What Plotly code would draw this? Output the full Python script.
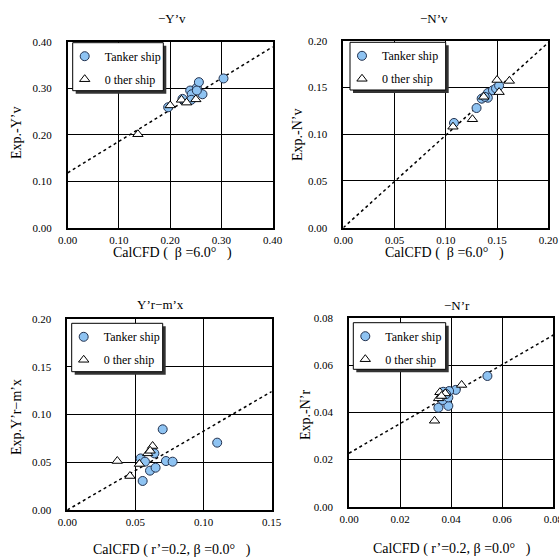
import plotly.graph_objects as go

# ---------------- data ----------------
# Panel 1: -Y'v
yv_tanker_x = [0.196, 0.224, 0.239, 0.242, 0.252, 0.256, 0.263, 0.252, 0.241, 0.304]
yv_tanker_y = [0.259, 0.277, 0.295, 0.287, 0.301, 0.313, 0.287, 0.295, 0.275, 0.321]
yv_other_x = [0.137, 0.200, 0.222, 0.232, 0.250]
yv_other_y = [0.201, 0.263, 0.275, 0.269, 0.276]
yv_fit_x = [0.0, 0.40]
yv_fit_y = [0.118, 0.389]

# Panel 2: -N'v
nv_tanker_x = [0.108, 0.130, 0.135, 0.141, 0.141, 0.146, 0.149, 0.152, 0.138]
nv_tanker_y = [0.112, 0.128, 0.138, 0.144, 0.139, 0.147, 0.149, 0.152, 0.140]
nv_other_x = [0.107, 0.126, 0.137, 0.150, 0.152, 0.162]
nv_other_y = [0.108, 0.116, 0.140, 0.158, 0.145, 0.157]
nv_fit_x = [0.0, 0.20]
nv_fit_y = [0.0, 0.198]

# Panel 3: Y'r-m'x
yr_tanker_x = [0.070, 0.110, 0.0538, 0.057, 0.0639, 0.0607, 0.0648, 0.0724, 0.0773, 0.0553]
yr_tanker_y = [0.0845, 0.0705, 0.054, 0.0506, 0.0593, 0.0412, 0.0443, 0.0513, 0.0506, 0.0304]
yr_other_x = [0.0367, 0.046, 0.0529, 0.059, 0.0626, 0.0608]
yr_other_y = [0.0513, 0.0356, 0.0482, 0.0593, 0.067, 0.062]
yr_fit_x = [0.0, 0.15]
yr_fit_y = [0.0, 0.124]

# Panel 4: -N'r
nr_tanker_x = [0.0542, 0.0418, 0.0392, 0.0369, 0.0350, 0.0389, 0.0367, 0.0389, 0.0380]
nr_tanker_y = [0.0555, 0.0496, 0.0491, 0.0488, 0.0420, 0.0428, 0.0453, 0.0464, 0.0478]
nr_other_x = [0.0335, 0.0356, 0.0377, 0.0441, 0.0351, 0.0362]
nr_other_y = [0.0365, 0.0486, 0.0481, 0.0517, 0.0460, 0.0470]
nr_fit_x = [0.0, 0.08]
nr_fit_y = [0.0227, 0.0729]

panel_titles = ["\u2212Y\u2019v", "\u2212N\u2019v", "Y\u2019r\u2212m\u2019x", "\u2212N\u2019r"]
y_titles = ["Exp.-Y\u2019v", "Exp.-N\u2019v", "Exp.Y\u2019r\u2212m\u2019x", "Exp.-N\u2019r"]
x_titles = ["CalCFD (  \u03b2 =6.0\u00b0   )", "CalCFD (  \u03b2 =6.0\u00b0   )",
            "CalCFD ( r\u2019=0.2, \u03b2 =0.0\u00b0   )", "CalCFD ( r\u2019=0.2, \u03b2 =0.0\u00b0   )"]
axis_max = [0.40, 0.20, (0.15, 0.20), 0.08]
axis_dtick = [0.10, 0.05, 0.05, 0.02]
series_names = ["Tanker ship", "0 ther ship"]

W, H = 559, 560
FONT = "Liberation Serif"

def px(x):
    return x / W

def py(y):
    return 1 - y / H

# panel plot-area boxes in pixels (left, right, top, bottom)
boxes = [(67.7, 272.7, 41.7, 227.7),
         (343.3, 548.3, 40.7, 227.7),
         (67.3, 271.7, 319.0, 510.0),
         (349.0, 553.3, 318.3, 506.7)]
legend_boxes = [(72.7, 163.3, 42.7, 90.7),
                (350.0, 445.7, 42.3, 90.0),
                (71.7, 162.7, 323.3, 371.7),
                (353.3, 445.7, 322.7, 369.3)]
title_pos = [(172, 18), (434, 18), (160, 304), (457, 305)]
xtitle_pos = [(172, 253), (444, 253), (172, 550), (452, 549)]
ytitle_pos = [(16, 133), (297, 135), (16, 417), (305, 415)]

data = [
    (yv_tanker_x, yv_tanker_y, yv_other_x, yv_other_y, yv_fit_x, yv_fit_y),
    (nv_tanker_x, nv_tanker_y, nv_other_x, nv_other_y, nv_fit_x, nv_fit_y),
    (yr_tanker_x, yr_tanker_y, yr_other_x, yr_other_y, yr_fit_x, yr_fit_y),
    (nr_tanker_x, nr_tanker_y, nr_other_x, nr_other_y, nr_fit_x, nr_fit_y),
]

fig = go.Figure()
layout = dict(width=W, height=H, margin=dict(l=0, r=0, t=0, b=0, pad=0),
              template="none",
              paper_bgcolor="white", plot_bgcolor="white",
              font=dict(family=FONT, color="black", size=11),
              showlegend=True, shapes=[], annotations=[])

for i, (tx, ty, ox, oy, fx, fy) in enumerate(data):
    n = "" if i == 0 else str(i + 1)
    xa, ya = "x" + n, "y" + n
    lg = "legend" + n
    fig.add_trace(go.Scatter(x=fx, y=fy, mode="lines", xaxis=xa, yaxis=ya,
                             line=dict(color="black", width=1.5, dash="dot"),
                             showlegend=False, hoverinfo="skip"))
    fig.add_trace(go.Scatter(x=tx, y=ty, mode="markers", xaxis=xa, yaxis=ya,
                             name=series_names[0], legend=lg, legendgroup="t" + n,
                             marker=dict(symbol="circle", size=9, color="#8EC3F2",
                                         line=dict(color="#23324F", width=1))))
    fig.add_trace(go.Scatter(x=ox, y=oy, mode="markers", xaxis=xa, yaxis=ya,
                             name=series_names[1], legend=lg, legendgroup="o" + n,
                             marker=dict(symbol="triangle-up", size=9, color="white",
                                         line=dict(color="black", width=1))))
    l, r, t, b = boxes[i]
    am = axis_max[i]
    xmax, ymax = (am if isinstance(am, tuple) else (am, am))
    common = dict(showgrid=True, gridcolor="black", gridwidth=1,
                  showline=True, linecolor="black", linewidth=1.5, mirror=True,
                  zeroline=False, ticks="", tickformat=".2f", dtick=axis_dtick[i],
                  tickfont=dict(family=FONT, size=11), fixedrange=True,
                  automargin=False, ticklabeloverflow="allow")
    layout["xaxis" + n] = dict(common, domain=[px(l), px(r)], range=[0, xmax],
                               anchor=ya, tick0=0, ticklabelstandoff=1)
    layout["yaxis" + n] = dict(common, domain=[py(b), py(t)], range=[0, ymax],
                               anchor=xa, tick0=0, ticklabelstandoff=12)
    # legend box with shadow
    lx0, lx1, ly0, ly1 = legend_boxes[i]
    layout["shapes"].append(dict(type="rect", xref="paper", yref="paper",
                                 x0=px(lx0 + 3), x1=px(lx1 + 3), y0=py(ly1 + 3), y1=py(ly0 + 3),
                                 fillcolor="#333333", line=dict(width=0), layer="above"))
    layout["shapes"].append(dict(type="rect", xref="paper", yref="paper",
                                 x0=px(lx0), x1=px(lx1), y0=py(ly1), y1=py(ly0),
                                 fillcolor="white", line=dict(color="black", width=1), layer="above"))
    layout[lg] = dict(x=px(lx0 - 8), y=py(ly0 - 1), xanchor="left", yanchor="top",
                      bgcolor="rgba(0,0,0,0)", borderwidth=0,
                      font=dict(family=FONT, size=12), itemwidth=30,
                      tracegroupgap=4)
    tx_, ty_ = title_pos[i]
    layout["annotations"].append(dict(text=panel_titles[i], x=px(tx_), y=py(ty_),
                                      xref="paper", yref="paper", showarrow=False,
                                      xanchor="center", yanchor="middle",
                                      font=dict(family=FONT, size=13)))
    xx, xy = xtitle_pos[i]
    layout["annotations"].append(dict(text=x_titles[i], x=px(xx), y=py(xy),
                                      xref="paper", yref="paper", showarrow=False,
                                      xanchor="center", yanchor="middle",
                                      font=dict(family=FONT, size=14)))
    yx, yy = ytitle_pos[i]
    layout["annotations"].append(dict(text=y_titles[i], x=px(yx), y=py(yy),
                                      xref="paper", yref="paper", showarrow=False,
                                      xanchor="center", yanchor="middle",
                                      textangle=-90, font=dict(family=FONT, size=14)))

fig.update_layout(**layout)
fig.write_html("out.html", config={"displayModeBar": False},
               post_script="document.body.style.margin='0';document.body.style.padding='0';"
                           "document.documentElement.style.overflow='hidden';")
